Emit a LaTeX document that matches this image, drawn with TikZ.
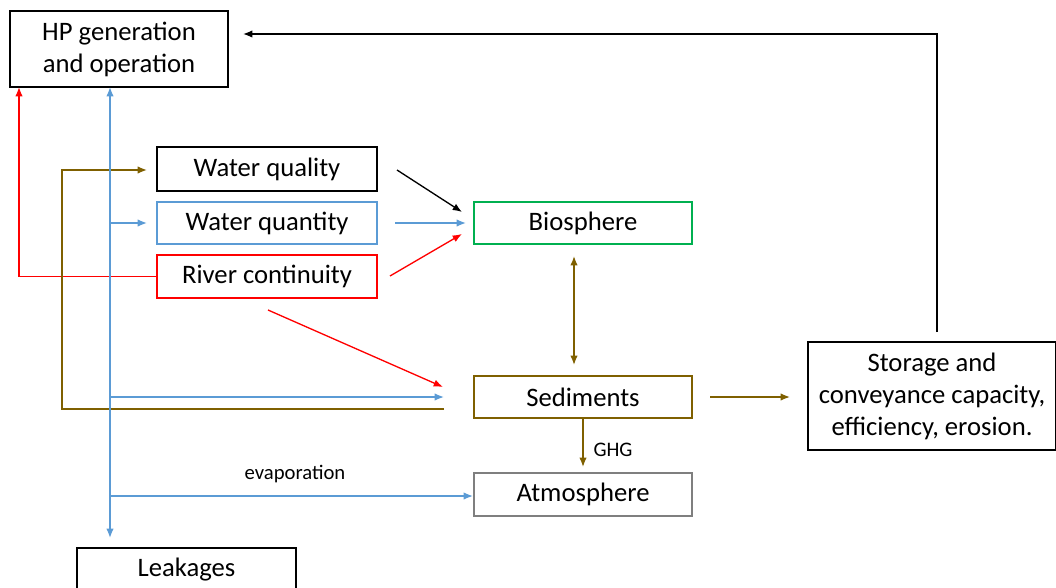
\documentclass[tikz,border=0pt]{standalone}
\usepackage{fontspec}
\setmainfont{Carlito}
\usetikzlibrary{arrows.meta}
\definecolor{cblue}{HTML}{5B9BD5}
\definecolor{cred}{HTML}{FF0000}
\definecolor{cbrown}{HTML}{7F6000}
\definecolor{cgreen}{HTML}{00B050}
\definecolor{cgray}{HTML}{7F7F7F}
\begin{document}
\begin{tikzpicture}[x=0.75pt,y=-0.75pt,
  box/.style={draw, line width=1.1pt, align=center, inner sep=0pt,
    font=\fontsize{20}{24}\selectfont},
  con/.style={line width=1pt, -{Latex[length=7pt,width=5.5pt]}},
  dcon/.style={line width=1pt, {Latex[length=7pt,width=5.5pt]}-{Latex[length=7pt,width=5.5pt]}},
  lbl/.style={font=\fontsize{15.5}{18}\selectfont, inner sep=0pt},
]
\useasboundingbox (0,0) rectangle (1056,588);

% boxes
\node[box, minimum width=163.5pt, minimum height=57pt] (HP) at (119,49) {HP generation\\and operation};
\node[box, minimum width=165pt, minimum height=33pt] (WQ) at (267,169) {Water quality};
\node[box, draw=cblue, minimum width=165pt, minimum height=31.5pt] (WQn) at (267,223) {Water quantity};
\node[box, draw=cred, minimum width=165pt, minimum height=32.25pt] (RC) at (267,276.5) {River continuity};
\node[box, draw=cgreen, minimum width=163.5pt, minimum height=31.5pt] (Bio) at (583,223) {Biosphere};
\node[box, draw=cbrown, minimum width=163.5pt, minimum height=31.5pt] (Sed) at (583,397) {Sediments};
\node[box, draw=cgray, minimum width=163.5pt, minimum height=32.25pt] (Atm) at (583,494.5) {Atmosphere};
\node[box, minimum width=186pt, minimum height=81pt] (Sto) at (932,396) {Storage and\\conveyance capacity,\\efficiency, erosion.};
\node[box, minimum width=164.25pt, minimum height=33pt] (Leak) at (186.5,570) {Leakages};

% coordinates
\coordinate (s1) at (937,332);
\coordinate (s2) at (937,34);
\coordinate (h1) at (243,34);
\coordinate (r1) at (19,276.5);
\coordinate (r2) at (19,87);
\coordinate (b0) at (110,87);
\coordinate (b1) at (110,538);
\coordinate (b2) at (110,223);
\coordinate (b3) at (147,223);
\coordinate (b4) at (110,397);
\coordinate (b5) at (444,397);
\coordinate (b6) at (110,496);
\coordinate (b7) at (473,496);
\coordinate (n1) at (444,409);
\coordinate (n2) at (62,409);
\coordinate (n3) at (62,170);
\coordinate (n4) at (147,170);
\coordinate (q1) at (397,170);
\coordinate (q2) at (462,212);
\coordinate (w1) at (395,223);
\coordinate (w2) at (466,223);
\coordinate (c1) at (390,276);
\coordinate (c2) at (462,234);
\coordinate (c3) at (268,310);
\coordinate (c4) at (443,387);
\coordinate (d1) at (574,256);
\coordinate (d2) at (574,365);
\coordinate (g1) at (583,467);
\coordinate (e1) at (710,397);
\coordinate (e2) at (790,397);

% connectors
\draw[con, black] (s1) -- (s2) -- (h1);
\draw[con, cred] (RC.west) -- (r1) -- (r2);
\draw[con, cbrown] (n1) -- (n2) -- (n3) -- (n4);
\draw[dcon, cblue] (b0) -- (b1);
\draw[con, cblue] (b2) -- (b3);
\draw[con, cblue] (b4) -- (b5);
\draw[con, cblue] (b6) -- (b7);
\node[lbl] (evap) at (295,474) {evaporation};
\draw[con, black] (q1) -- (q2);
\draw[con, cblue] (w1) -- (w2);
\draw[con, cred] (c1) -- (c2);
\draw[con, cred] (c3) -- (c4);
\draw[dcon, cbrown] (d1) -- (d2);
\draw[con, cbrown] (Sed.south -| g1) -- (g1);
\node[lbl] (ghg) at (613,450) {GHG};
\draw[con, cbrown] (e1) -- (e2);
\end{tikzpicture}
\end{document}
